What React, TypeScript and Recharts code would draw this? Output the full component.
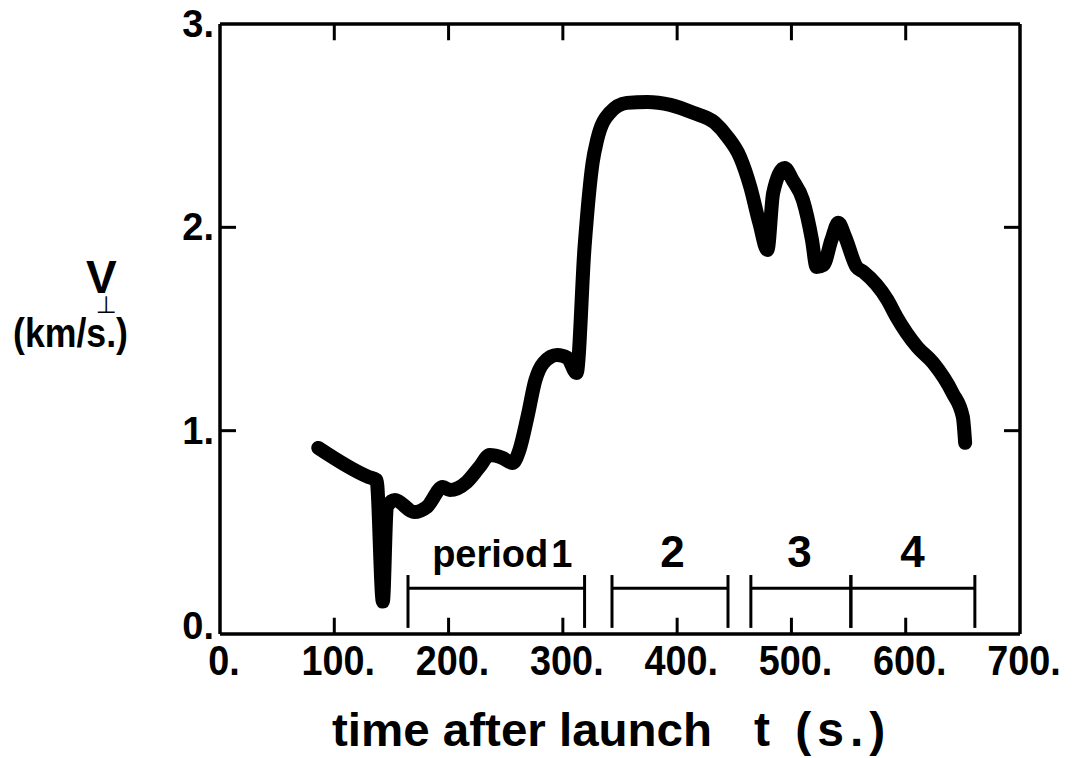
import { LineChart, Line, XAxis, YAxis, ReferenceLine, ReferenceDot, Customized } from "recharts";

// time after launch (s) and perpendicular velocity (km/s)
const times = [
    86, 130, 137, 142.5, 146, 153, 170, 181, 195, 201, 216, 227, 236, 247, 256, 262, 269, 276, 283, 295, 304,
    312, 319, 326, 330, 341, 356, 374, 394, 414, 433, 444, 455, 464, 472, 479, 484, 494, 501, 510, 518, 522,
    528, 535, 541, 547, 557, 563, 584, 592, 610, 624, 641, 650, 652,
];
const vPerp = [
    0.915, 0.772, 0.757, 0.16, 0.625, 0.659, 0.6, 0.625, 0.723, 0.708, 0.748, 0.821, 0.88, 0.866, 0.841, 0.905,
    1.067, 1.249, 1.333, 1.372, 1.358, 1.284, 1.904, 2.317, 2.43, 2.563, 2.612, 2.617, 2.602, 2.563, 2.514,
    2.445, 2.346, 2.199, 2.02, 1.889, 2.169, 2.292, 2.233, 2.135, 1.938, 1.805, 1.815, 1.938, 2.022, 1.953,
    1.805, 1.781, 1.643, 1.559, 1.412, 1.333, 1.185, 1.067, 0.94,
];

const X_MIN = 0;
const X_MAX = 700;
const Y_MIN = 0;
const Y_MAX = 3;
const xTicks = [0, 100, 200, 300, 400, 500, 600, 700];
const yTicks = [0, 1, 2, 3];
const innerXTicks = [100, 200, 300, 400, 500, 600];
const innerYTicks = [1, 2];
// inward tick lengths in axis units
const X_TICK_LEN = 14;
const Y_TICK_LEN = 0.08;

// observation periods
const periodStart = [164.5, 343, 464.5, 552];
const periodEnd = [319, 444.5, 552, 660.5];
const periodLabels = ["period", "2", "3", "4"];
const periodLabelX = [247, 396, 507, 606];
const periodBarY = 0.225;
const periodTickLow = 0.03;
const periodTickHigh = 0.29;
const periodLabelY = 0.33;

const data = times.map((t, i) => ({ t, v: vPerp[i] }));

const FONT = "'Liberation Sans', Arial, Helvetica, sans-serif";
const FRAME_W = 3.5;
const TICK_W = 3;

const XTick = (props: any) => {
    const { x, y, payload } = props;
    return (
        <g transform={`translate(${x + 4},${y + 41})`}>
            <text textAnchor="middle" transform="scale(0.9,1)" fontFamily={FONT} fontWeight="bold" fontSize={42} fill="#000">
                {`${payload.value}.`}
            </text>
        </g>
    );
};

const YTick = (props: any) => {
    const { x, y, payload } = props;
    const dy = payload.value === 0 ? 5 : 13;
    return (
        <text x={x - 6} y={y + dy} textAnchor="end" fontFamily={FONT} fontWeight="bold" fontSize={38} fill="#000">
            {`${payload.value}.`}
        </text>
    );
};

const PeriodText = (label: string) => (props: any) => {
    const { cx, cy } = props;
    if (label === "period") {
        return (
            <text x={cx} y={cy} textAnchor="middle" fontFamily={FONT} fontWeight="bold" fontSize={38} fill="#000">
                period<tspan dx={3}>1</tspan>
            </text>
        );
    }
    return (
        <text x={cx} y={cy} textAnchor="middle" fontFamily={FONT} fontWeight="bold" fontSize={44} fill="#000">
            {label}
        </text>
    );
};

const Titles = () => (
    <g fontFamily={FONT} fontWeight="bold" fill="#000">
        <text x={86} y={293} fontSize={46}>
            V
            <tspan dx={-21} dy={20} fontSize={24} fontWeight="normal" fontFamily="'DejaVu Sans', sans-serif">
                ⊥
            </tspan>
        </text>
        <text x={13} y={347} fontSize={40} textLength={115} lengthAdjust="spacingAndGlyphs">(km/s.)</text>
        <text x={332} y={746} fontSize={47} textLength={380} lengthAdjust="spacingAndGlyphs">time after launch</text>
        <text x={754} y={746} fontSize={48} letterSpacing={6}>t (s.)</text>
    </g>
);

const seg = (key: string, x1: number, y1: number, x2: number, y2: number, w: number) => (
    <ReferenceLine
        key={key}
        segment={[{ x: x1, y: y1 }, { x: x2, y: y2 }]}
        stroke="#000"
        strokeWidth={w}
        ifOverflow="visible"
    />
);

export default function App() {
    return (
        <div style={{ position: "absolute", left: 0, top: 0, background: "#fff" }}>
            <LineChart width={1074} height={758} data={data} margin={{ top: 24, right: 54, bottom: 0, left: 0 }}>
                <XAxis
                    dataKey="t"
                    type="number"
                    domain={[X_MIN, X_MAX]}
                    ticks={xTicks}
                    height={124}
                    axisLine={{ stroke: "#000", strokeWidth: FRAME_W }}
                    tickLine={false}
                    tickSize={0}
                    tickMargin={0}
                    tick={XTick}
                    interval={0}
                />
                <YAxis
                    type="number"
                    domain={[Y_MIN, Y_MAX]}
                    ticks={yTicks}
                    width={220}
                    axisLine={{ stroke: "#000", strokeWidth: FRAME_W }}
                    tickLine={false}
                    tickSize={0}
                    tickMargin={0}
                    tick={YTick}
                    interval={0}
                />
                {/* top and right sides of the frame */}
                {seg("frame-top", X_MIN, Y_MAX, X_MAX, Y_MAX, FRAME_W)}
                {seg("frame-right", X_MAX, Y_MIN, X_MAX, Y_MAX, FRAME_W)}
                {/* inward ticks on all four sides */}
                {innerXTicks.map((t) => seg(`tb-${t}`, t, Y_MIN, t, Y_MIN + Y_TICK_LEN, TICK_W))}
                {innerXTicks.map((t) => seg(`tt-${t}`, t, Y_MAX, t, Y_MAX - Y_TICK_LEN, TICK_W))}
                {innerYTicks.map((v) => seg(`tl-${v}`, X_MIN, v, X_MIN + X_TICK_LEN, v, TICK_W))}
                {innerYTicks.map((v) => seg(`tr-${v}`, X_MAX, v, X_MAX - X_TICK_LEN, v, TICK_W))}
                {/* period markers */}
                {periodStart.map((s, i) => seg(`bar-${i}`, s, periodBarY, periodEnd[i], periodBarY, 3))}
                {periodStart.map((s, i) => seg(`ts-${i}`, s, periodTickLow, s, periodTickHigh, 3))}
                {periodEnd.map((e, i) => seg(`te-${i}`, e, periodTickLow, e, periodTickHigh, 3))}
                {periodLabels.map((label, i) => (
                    <ReferenceDot key={`lbl-${i}`} x={periodLabelX[i]} y={periodLabelY} r={0} shape={PeriodText(label)} />
                ))}
                <Line
                    type="monotone"
                    dataKey="v"
                    stroke="#000"
                    strokeWidth={14}
                    strokeLinecap="round"
                    strokeLinejoin="round"
                    dot={false}
                    isAnimationActive={false}
                />
                <Customized component={<Titles />} />
            </LineChart>
        </div>
    );
}
